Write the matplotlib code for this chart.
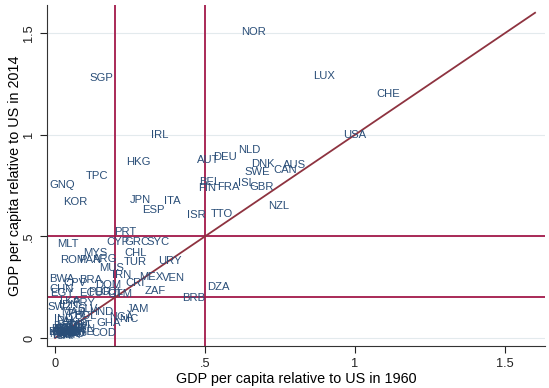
import numpy as np
import matplotlib
matplotlib.use("Agg")
import matplotlib.pyplot as plt

plt.rcParams['font.family'] = ['Liberation Sans', 'DejaVu Sans']

# country codes with GDP per capita relative to US (1960, 2014)
codes = ["NOR", "SGP", "LUX", "CHE", "USA", "IRL", "HKG", "NLD", "DEU", "AUT",
         "DNK", "AUS", "SWE", "CAN", "BEL", "FIN", "FRA", "ISL", "GBR", "NZL",
         "ISR", "TTO", "ITA", "JPN", "ESP", "TPC", "GNQ", "KOR", "PRT", "CYP",
         "GRC", "SYC", "MLT", "MYS", "ROM", "PAN", "ARG", "TUR", "CHL", "MUS",
         "URY", "IRN", "MEX", "VEN", "ZAF", "DZA", "BRB", "CRI", "BWA", "BRA",
         "CPV", "DOM", "PER", "COL", "GTM", "ECU", "EGY", "SWZ", "PRY", "JAM",
         "HND", "NGA", "NIC", "GHA", "COD",
         "BOL", "SLV", "MAR", "PHL", "IDN", "IND", "PAK", "LKA", "CHN", "BEN",
         "BFA", "BDI", "CMR", "CAF", "TCD", "COM", "CIV", "ETH", "GMB", "GIN",
         "KEN", "LSO", "MDG", "MWI", "MLI", "MRT", "MOZ", "NER", "RWA", "SEN",
         "TZA", "TGO", "UGA", "ZMB", "ZWE", "NPL", "BGD", "HTI"]
gdp1960 = [0.661, 0.153, 0.898, 1.111, 1.000, 0.350, 0.277, 0.646, 0.567, 0.511,
           0.694, 0.797, 0.674, 0.767, 0.514, 0.508, 0.578, 0.639, 0.687, 0.747,
           0.472, 0.556, 0.392, 0.283, 0.328, 0.139, 0.022, 0.067, 0.233, 0.210,
           0.272, 0.344, 0.044, 0.133, 0.061, 0.117, 0.167, 0.267, 0.267, 0.189,
           0.383, 0.222, 0.322, 0.394, 0.333, 0.544, 0.463, 0.267, 0.022, 0.117,
           0.067, 0.177, 0.150, 0.190, 0.215, 0.120, 0.022, 0.017, 0.094, 0.278,
           0.155, 0.222, 0.247, 0.178, 0.161,
           0.100, 0.110, 0.060, 0.075, 0.045, 0.030, 0.040, 0.050, 0.020, 0.035,
           0.025, 0.020, 0.060, 0.040, 0.045, 0.055, 0.080, 0.015, 0.030, 0.035,
           0.050, 0.025, 0.065, 0.020, 0.040, 0.085, 0.050, 0.045, 0.030, 0.095,
           0.030, 0.040, 0.035, 0.070, 0.090, 0.030, 0.035, 0.070]
gdp2014 = [1.504, 1.277, 1.289, 1.202, 1.000, 1.000, 0.866, 0.925, 0.892, 0.876,
           0.854, 0.851, 0.818, 0.826, 0.769, 0.736, 0.741, 0.761, 0.744, 0.649,
           0.605, 0.608, 0.675, 0.679, 0.630, 0.797, 0.753, 0.671, 0.523, 0.474,
           0.474, 0.474, 0.462, 0.417, 0.384, 0.384, 0.387, 0.375, 0.417, 0.346,
           0.380, 0.310, 0.298, 0.293, 0.233, 0.252, 0.195, 0.269, 0.289, 0.285,
           0.269, 0.261, 0.226, 0.228, 0.216, 0.222, 0.220, 0.151, 0.172, 0.143,
           0.128, 0.105, 0.092, 0.072, 0.023,
           0.110, 0.140, 0.130, 0.120, 0.160, 0.095, 0.085, 0.180, 0.240, 0.040,
           0.030, 0.015, 0.050, 0.012, 0.035, 0.025, 0.060, 0.030, 0.030, 0.025,
           0.050, 0.045, 0.025, 0.020, 0.030, 0.065, 0.020, 0.015, 0.030, 0.045,
           0.045, 0.025, 0.035, 0.070, 0.030, 0.045, 0.060, 0.030]

xticks = [0, 0.5, 1, 1.5]
xticklabels = ["0", ".5", "1", "1.5"]
cutoffs = [0.2, 0.5]

navy = "#2a4e78"
red = "#a3194a"
maroon = "#8e3340"

fig = plt.figure(figsize=(5.49, 3.88), dpi=100)
ax = fig.add_axes([0.0856, 0.107, 0.907, 0.880])

for c in cutoffs:
    ax.axvline(c, color=red, lw=1.3, zorder=1)
    ax.axhline(c, color=red, lw=1.3, zorder=1)
ax.plot([0, 1.6], [0, 1.6], color=maroon, lw=1.3, zorder=2)

for code, x, y in zip(codes, gdp1960, gdp2014):
    ax.text(x, y, code, ha="center", va="center", fontsize=8.1,
            color=navy, zorder=3)

ax.set_xlim(-0.027, 1.633)
ax.set_ylim(-0.042, 1.638)
ax.set_xticks(xticks)
ax.set_xticklabels(xticklabels)
ax.set_yticks(xticks)
ax.set_yticklabels(xticklabels, rotation=90, va="center")
ax.tick_params(labelsize=9.2, length=5, width=0.8, colors="#222222")
ax.yaxis.grid(True, color="#e3eaed", lw=0.8)
ax.set_axisbelow(True)
for s in ["top", "right"]:
    ax.spines[s].set_visible(False)
for s in ["left", "bottom"]:
    ax.spines[s].set_color("#333333")
    ax.spines[s].set_linewidth(0.8)

ax.set_xlabel("GDP per capita relative to US in 1960", fontsize=10.4, labelpad=1)
ax.set_ylabel("GDP per capita relative to US in 2014", fontsize=10.4, labelpad=1)

fig.savefig("out.png", dpi=100)
